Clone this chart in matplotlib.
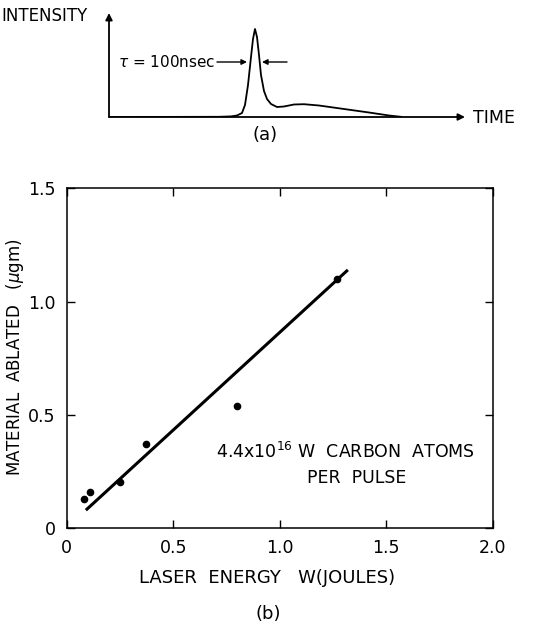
import matplotlib
matplotlib.use("Agg")
import matplotlib.pyplot as plt
import numpy as np

plt.rcParams['font.family'] = ['DejaVu Sans']

# ---- data: panel (b) ----
energy = [0.08, 0.11, 0.25, 0.37, 0.80, 1.27]
ablated = [0.13, 0.16, 0.205, 0.37, 0.54, 1.10]
fit_x = [0.09, 1.32]
fit_y = [0.08, 1.14]
xticks = [0, 0.5, 1.0, 1.5, 2.0]
xticklabels = ["0", "0.5", "1.0", "1.5", "2.0"]
yticks = [0, 0.5, 1.0, 1.5]
yticklabels = ["0", "0.5", "1.0", "1.5"]

# ---- data: panel (a) pulse shape (arbitrary units) ----
pulse_t = [0, 110, 122, 128, 133, 136, 139, 142, 144, 146, 148, 150, 152,
           155, 158, 162, 168, 175, 185, 195, 210, 235, 260, 280, 292]
pulse_i = [0, 0.2, 0.6, 1.5, 4, 12, 32, 60, 78, 88, 80, 62, 42,
           26, 18, 13, 10, 10.5, 12.5, 12.8, 11.5, 8, 4.5, 1.5, 0.2]

W, H = 542, 627
fig = plt.figure(figsize=(W / 100, H / 100), dpi=100)

# ---------- panel (a) ----------
x0, y0, x1, y1 = 109, 117, 470, 10
axa = fig.add_axes([x0 / W, (H - y0) / H, (x1 - x0) / W, (y0 - y1) / H])
axa.set_xlim(0, x1 - x0)
axa.set_ylim(0, y0 - y1)
axa.axis('off')
axa.plot(pulse_t, pulse_i, color='black', lw=1.3, solid_joinstyle='round')
axa.annotate('', xy=(356, 0), xytext=(0, 0),
             arrowprops=dict(arrowstyle='-|>', color='black', lw=1.3,
                             mutation_scale=10, shrinkA=0, shrinkB=0))
axa.annotate('', xy=(0, 104), xytext=(0, 0),
             arrowprops=dict(arrowstyle='-|>', color='black', lw=1.3,
                             mutation_scale=10, shrinkA=0, shrinkB=0))
axa.annotate('', xy=(138, 55), xytext=(108, 55),
             arrowprops=dict(arrowstyle='-|>', color='black', lw=1.0,
                             mutation_scale=8, shrinkA=0, shrinkB=0))
axa.annotate('', xy=(153, 55), xytext=(178, 55),
             arrowprops=dict(arrowstyle='-|>', color='black', lw=1.0,
                             mutation_scale=8, shrinkA=0, shrinkB=0))
axa.text(106, 55, r'$\tau$ = 100nsec', ha='right', va='center', fontsize=11)

fig.text(1 / W, 1 - 16 / H, 'INTENSITY', ha='left', va='center', fontsize=12)
fig.text(473 / W, 1 - 118 / H, 'TIME', ha='left', va='center', fontsize=12.5)
fig.text(265 / W, 1 - 135 / H, '(a)', ha='center', va='center', fontsize=13)

# ---------- panel (b) ----------
L, R, T, B = 66.7, 492.7, 188.3, 528.3
ax = fig.add_axes([L / W, (H - B) / H, (R - L) / W, (B - T) / H])
ax.plot(fit_x, fit_y, color='black', lw=2.2, solid_capstyle='butt')
ax.plot(energy, ablated, 'o', color='black', markersize=4.5)
ax.set_xlim(0, 2.0)
ax.set_ylim(0, 1.5)
ax.set_xticks(xticks)
ax.set_xticklabels(xticklabels)
ax.set_yticks(yticks)
ax.set_yticklabels(yticklabels)
ax.tick_params(direction='in', length=6, width=1.0, top=True, right=True,
               labelsize=12.5, pad=8)
for s in ax.spines.values():
    s.set_linewidth(1.1)
fig.text(267 / W, 1 - 578 / H, 'LASER  ENERGY   W(JOULES)', ha='center',
         va='center', fontsize=13)
fig.text(15 / W, 1 - 357 / H, r'MATERIAL  ABLATED   ($\mu$gm)', ha='center',
         va='center', rotation=90, fontsize=12)
ax.text(1.31, 0.337, r'4.4x10$^{16}$ W  CARBON  ATOMS', ha='center',
        va='center', fontsize=12.5)
ax.text(1.36, 0.222, 'PER  PULSE', ha='center', va='center', fontsize=12.5)

fig.text(268 / W, 1 - 614 / H, '(b)', ha='center', va='center', fontsize=13)

fig.savefig('out.png', dpi=100)
